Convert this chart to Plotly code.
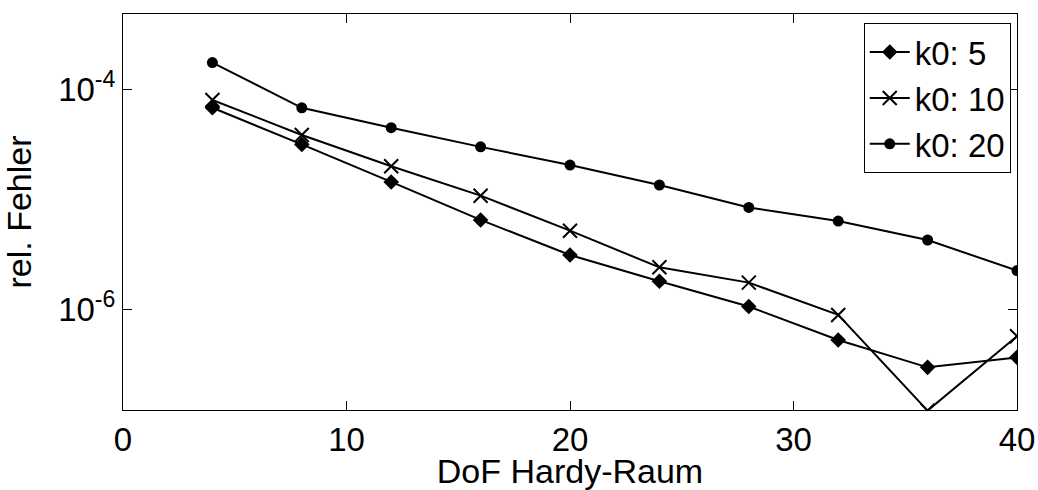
import plotly.graph_objects as go

dof = [4, 8, 12, 16, 20, 24, 28, 32, 36, 40]
err_k5 = [6.8e-5, 3.16e-5, 1.44e-5, 6.5e-6, 3.12e-6, 1.8e-6, 1.06e-6, 5.26e-7, 2.97e-7, 3.66e-7]
err_k10 = [8.0e-5, 3.85e-5, 2.0e-5, 1.08e-5, 5.19e-6, 2.41e-6, 1.75e-6, 8.9e-7, 1.2e-7, 5.7e-7]
err_k20 = [1.75e-4, 6.8e-5, 4.48e-5, 3.0e-5, 2.05e-5, 1.35e-5, 8.45e-6, 6.35e-6, 4.27e-6, 2.25e-6]
names = ["k0: 5", "k0: 10", "k0: 20"]

FONT = "Liberation Sans, Arial, sans-serif"

fig = go.Figure()
fig.add_trace(go.Scatter(x=dof, y=err_k5, name=names[0], mode="lines+markers",
                         line=dict(color="black", width=2),
                         marker=dict(symbol="diamond", size=12, color="black")))
fig.add_trace(go.Scatter(x=dof, y=err_k10, name=names[1], mode="lines+markers",
                         line=dict(color="black", width=2),
                         marker=dict(symbol="x-thin", size=14, color="black",
                                     line=dict(color="black", width=2))))
fig.add_trace(go.Scatter(x=dof, y=err_k20, name=names[2], mode="lines+markers",
                         line=dict(color="black", width=2),
                         marker=dict(symbol="circle", size=11, color="black")))

fig.update_layout(
    width=1038, height=490,
    margin=dict(l=123, r=21, t=14, b=80),
    paper_bgcolor="white", plot_bgcolor="white",
    font=dict(family=FONT, size=30, color="black"),
    showlegend=True,
    legend=dict(x=0.993, y=0.977, xanchor="right", yanchor="top",
                bgcolor="white", bordercolor="black", borderwidth=1,
                font=dict(size=33, family=FONT), itemwidth=40),
    xaxis=dict(range=[0, 40], tickvals=[0, 10, 20, 30, 40],
               ticks="inside", ticklen=9, tickcolor="black",
               showline=True, linecolor="black", linewidth=1, mirror="ticks",
               showgrid=False, zeroline=False, automargin=False,
               title=dict(text="DoF Hardy-Raum", standoff=4, font=dict(size=34)),
               tickfont=dict(size=33)),
    yaxis=dict(type="log", range=[-6.915, -3.315],
               tickvals=[1e-6, 1e-4], ticktext=["10<sup>-6</sup>", "10<sup>-4</sup>"],
               ticks="inside", ticklen=9, tickcolor="black",
               showline=True, linecolor="black", linewidth=1, mirror="ticks",
               showgrid=False, zeroline=False, automargin=False,
               title=dict(text="rel. Fehler", standoff=20, font=dict(size=34)),
               tickfont=dict(size=33)),
)

fig.write_html("out.html")
